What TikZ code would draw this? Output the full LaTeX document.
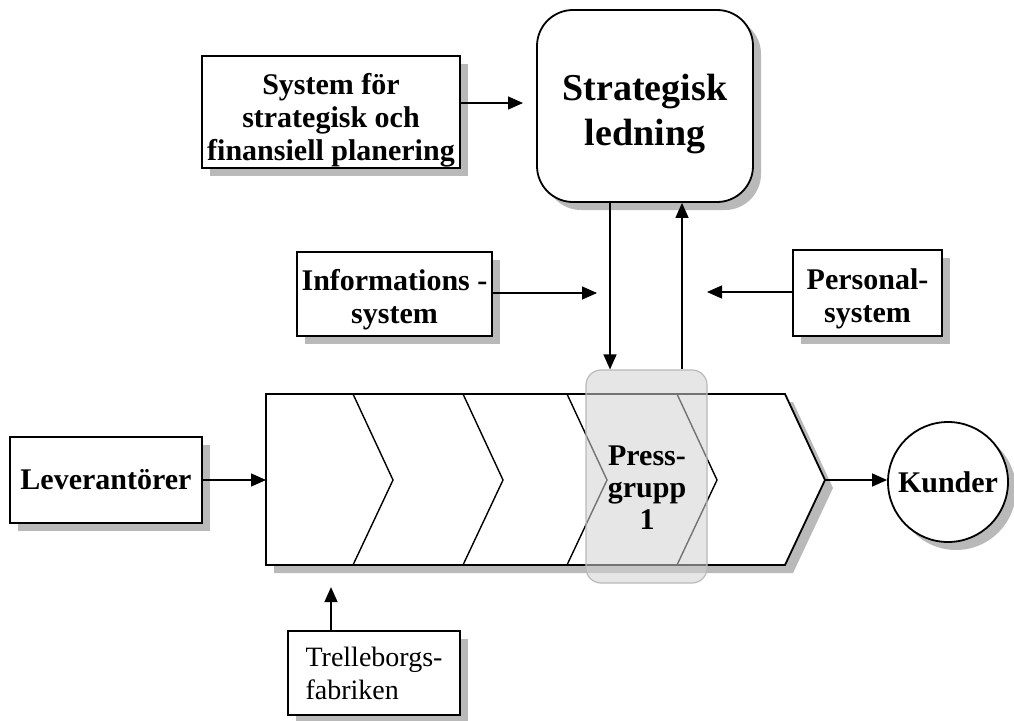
\documentclass[tikz,border=0pt]{standalone}
\usepackage{fontspec}
\setmainfont{Liberation Serif}
\usetikzlibrary{arrows.meta,shadows,calc}
% taller first line: lowers a multi-line label inside its box
\newcommand{\lowerby}[1]{\rule{0pt}{#1}}
\begin{document}
\begin{tikzpicture}[x=1pt,y=-1pt,
  shadowed/.style={drop shadow={shadow xshift=8pt,shadow yshift=-8pt,opacity=1,fill=gray!55}},
  box/.style={draw=black,line width=1.8pt,fill=white,shadowed,inner sep=1pt,align=center,
    font=\bfseries\fontsize{30}{33}\selectfont},
  arr/.style={line width=1.4pt,-{Triangle[length=15pt,width=13pt]}},
  chev/.style={line width=1.4pt,line join=miter}]
\useasboundingbox (0,0) rectangle (1014,720);

% top: strategic management and its planning system
\node[box,rounded corners=36pt,minimum width=216pt,minimum height=192pt,
  font=\bfseries\fontsize{38}{45}\selectfont] (strat) at (645,106) {\lowerby{42pt}Strategisk\\ledning};
\node[box,minimum width=258pt,minimum height=110pt] (sys) at (331,112)
  {\lowerby{37pt}System för\\strategisk och\\finansiell planering};

% support systems
\node[box,minimum width=195pt,minimum height=84pt] (info) at (394.5,294) {\lowerby{33pt}Informations -\\system};
\node[box,minimum width=149pt,minimum height=86pt] (pers) at (867.5,293) {\lowerby{33pt}Personal-\\system};

% suppliers, customers, plant
\node[box,minimum width=192pt,minimum height=86pt] (lev) at (106,480) {Leverantörer};
\node[box,circle,minimum size=120pt,inner sep=0pt] (kund) at (948,482) {Kunder};
\node[box,minimum width=172pt,minimum height=84pt,font=\fontsize{28}{33}\selectfont,align=left] (trel) at (374,673)
  {Trelleborgs-\\fabriken};

% value chain
\fill[gray!55] (274,402) -- (793,402) -- (833,488) -- (793,573) -- (274,573) -- cycle;
\draw[chev,line width=1.8pt,fill=white] (266,394) -- (785,394) -- (825,480) -- (785,565) -- (266,565) -- cycle;
\foreach \t in {353,463,567,677}
  \draw[chev] (\t,394) -- (\t+40,480) -- (\t,565);
\coordinate (chevL) at (266,480);
\coordinate (chevR) at (825,480);

% press group highlight
\node[draw=gray!55,line width=1.2pt,fill=gray!35,fill opacity=0.55,rounded corners=15pt,
  minimum width=121pt,minimum height=213pt] (press) at (646.5,476.5) {};
\node[align=center,font=\bfseries\fontsize{30}{32}\selectfont] (presstxt) at (647,488) {Press-\\grupp\\1};

% connectors
\coordinate (sysEnd) at (523,103);
\coordinate (infoEnd) at (597,293);
\coordinate (persEnd) at (707,292);
\coordinate (dn) at (610,0);
\coordinate (up) at (682,0);
\draw[arr] (sys.east |- sysEnd) -- (sysEnd);
\draw[arr] (info.east |- infoEnd) -- (infoEnd);
\draw[arr] (pers.west |- persEnd) -- (persEnd);
\draw[arr] (strat.south -| dn) -- (press.north -| dn);
\draw[arr] (press.north -| up) -- (strat.south -| up);
\draw[arr] (lev.east |- chevL) -- (chevL);
\draw[arr] (chevR) -- (kund.west |- chevR);
\draw[arr] (trel.north -| 331,0) -- ++(0,-43);
\end{tikzpicture}
\end{document}
